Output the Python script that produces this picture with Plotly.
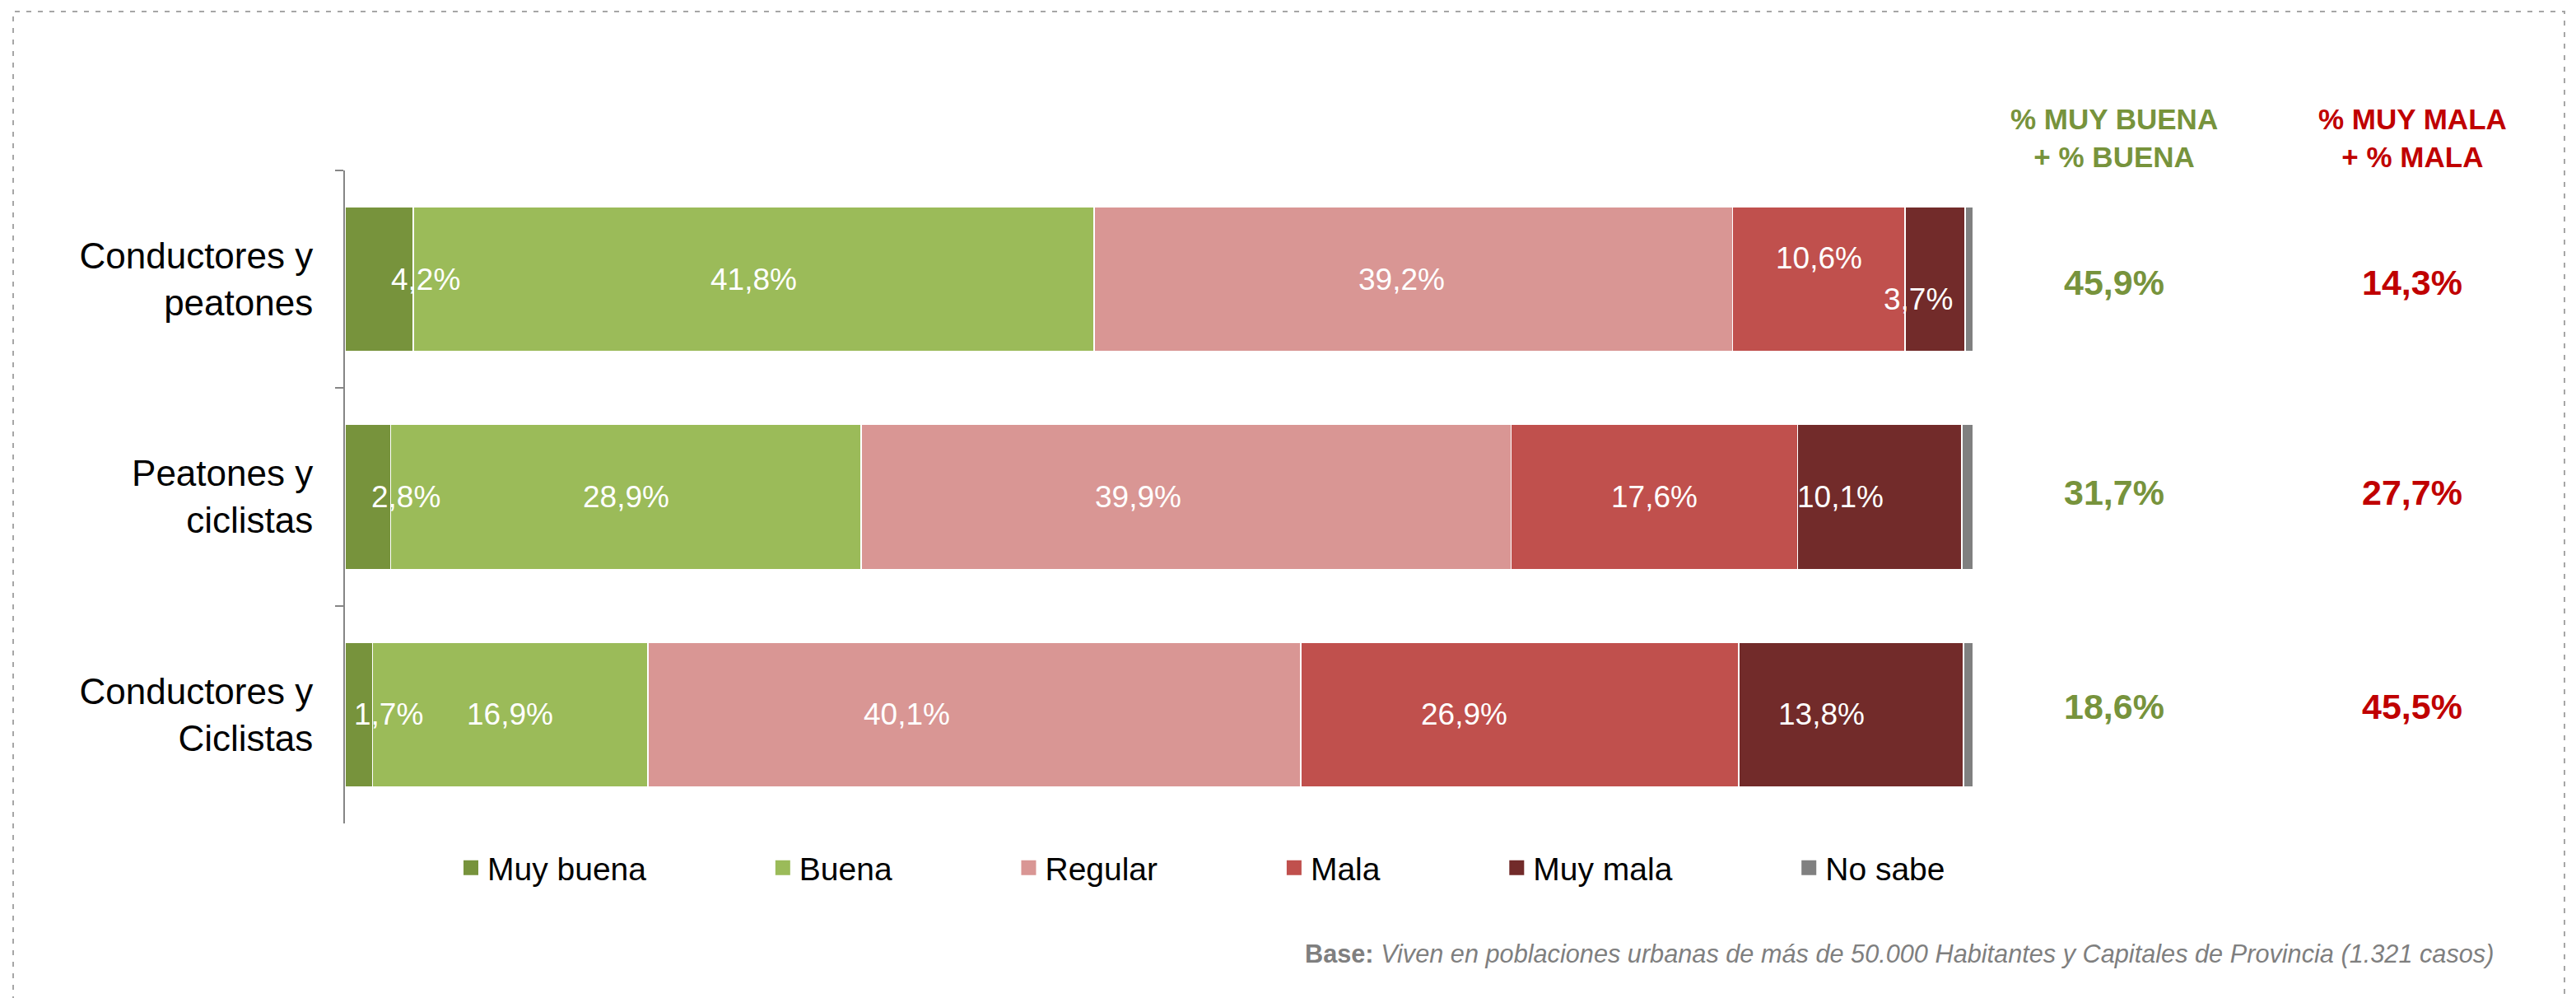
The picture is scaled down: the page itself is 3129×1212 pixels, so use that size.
import plotly.graph_objects as go

# ---------------- data ----------------
CATEGORIES = ["Conductores y<br>peatones", "Peatones y<br>ciclistas", "Conductores y<br>Ciclistas"]
SERIES = ["Muy buena", "Buena", "Regular", "Mala", "Muy mala", "No sabe"]
MUY_BUENA = [4.2, 2.8, 1.7]
BUENA = [41.8, 28.9, 16.9]
REGULAR = [39.2, 39.9, 40.1]
MALA = [10.6, 17.6, 26.9]
MUY_MALA = [3.7, 10.1, 13.8]
NO_SABE = [0.5, 0.7, 0.6]
POS_TOTAL = [45.9, 31.7, 18.6]
NEG_TOTAL = [14.3, 27.7, 45.5]
POS_HEADER = "% MUY BUENA<br>+ % BUENA"
NEG_HEADER = "% MUY MALA<br>+ % MALA"
FOOT_BOLD = "Base:"
FOOT_TEXT = "Viven en poblaciones urbanas de más de 50.000 Habitantes y Capitales de Provincia (1.321 casos)"

VALUES = [MUY_BUENA, BUENA, REGULAR, MALA, MUY_MALA, NO_SABE]
SHOW_LABEL = [True, True, True, True, True, False]

# ---------------- style ----------------
COLORS = ["#77933C", "#9BBB59", "#D99694", "#C0504D", "#722B2A", "#808080"]
GREEN = "#77933C"
RED = "#C00000"
SANS = "Liberation Sans, Arial, sans-serif"
# per-label pixel offsets (series x row) mimicking the original label placement
LABEL_XSHIFT = [[56, 46, 36], [0, 0, 0], [-14, -58, -82], [0, 0, -68], [-21, -48, -36]]
LABEL_YSHIFT = [[0, 0, 0], [0, 0, 0], [0, 0, 0], [26, 0, 0], [-24, 0, 0]]
VAL_YSHIFT = [-4, 6, 10]

W, H = 3129, 1212
L, R, T, B = 419, 3129 - 2397, 207, 212
PW, PH = W - L - R, H - T - B


def px_x(px):
    return (px - L) / PW


def px_y(py):
    return (H - B - py) / PH


def fmt(v):
    return f"{v:.1f}".replace(".", ",") + "%"


fig = go.Figure()

for name, vals, col in zip(SERIES, VALUES, COLORS):
    fig.add_trace(go.Bar(
        y=CATEGORIES, x=vals, orientation="h", name=name,
        marker=dict(color=col, line=dict(color="white", width=1.5)),
        showlegend=False, hoverinfo="skip",
    ))

# legend entries (square symbols); trailing spaces reproduce the wide gaps
PAD = "\u00a0" * 13
for i, (name, col) in enumerate(zip(SERIES, COLORS)):
    fig.add_trace(go.Scatter(
        x=[None], y=[None], mode="markers", name=name + (PAD if i < len(SERIES) - 1 else ""),
        marker=dict(symbol="square", size=16, color=col, line=dict(color=col, width=2)),
        showlegend=True, hoverinfo="skip",
    ))

annotations = []
# segment labels
for s, vals in enumerate(VALUES):
    if not SHOW_LABEL[s]:
        continue
    for r, cat in enumerate(CATEGORIES):
        start = sum(VALUES[k][r] for k in range(s))
        annotations.append(dict(
            x=start + vals[r] / 2, y=cat, xref="x", yref="y",
            xanchor="center", yanchor="middle",
            text=fmt(vals[r]), showarrow=False,
            xshift=LABEL_XSHIFT[s][r], yshift=LABEL_YSHIFT[s][r],
            font=dict(family=SANS, size=37, color="white"),
        ))

# right-side columns
COL_POS_X = px_x(2568)
COL_NEG_X = px_x(2930)
for xx, head, col in [(COL_POS_X, POS_HEADER, GREEN), (COL_NEG_X, NEG_HEADER, RED)]:
    annotations.append(dict(x=xx, y=px_y(168), xref="paper", yref="paper",
                            xanchor="center", yanchor="middle", text=f"<b>{head}</b>",
                            showarrow=False, align="center", font=dict(family=SANS, size=35, color=col)))
for r, cat in enumerate(CATEGORIES):
    annotations.append(dict(x=COL_POS_X, y=cat, xref="paper", yref="y", xanchor="center", yanchor="middle",
                            text=f"<b>{fmt(POS_TOTAL[r])}</b>", showarrow=False, yshift=VAL_YSHIFT[r],
                            font=dict(family=SANS, size=43, color=GREEN)))
    annotations.append(dict(x=COL_NEG_X, y=cat, xref="paper", yref="y", xanchor="center", yanchor="middle",
                            text=f"<b>{fmt(NEG_TOTAL[r])}</b>", showarrow=False, yshift=VAL_YSHIFT[r],
                            font=dict(family=SANS, size=43, color=RED)))

# footnote
annotations.append(dict(x=px_x(3031), y=px_y(1158), xref="paper", yref="paper",
                        xanchor="right", yanchor="middle",
                        text=f"<b>{FOOT_BOLD}</b> <i>{FOOT_TEXT}</i>", showarrow=False,
                        font=dict(family=SANS, size=30.7, color="#7F7F7F")))

fig.update_layout(
    width=W, height=H, autosize=False,
    margin=dict(l=L, r=R, t=T, b=B, pad=0),
    barmode="stack", bargap=0.334,
    plot_bgcolor="white", paper_bgcolor="white",
    annotations=annotations,
    legend=dict(orientation="h", traceorder="normal",
                x=px_x(552), xanchor="left", y=px_y(1054), yanchor="middle",
                font=dict(family=SANS, size=39, color="black"), bgcolor="rgba(0,0,0,0)"),
    shapes=[dict(type="rect", xref="paper", yref="paper",
                 x0=px_x(16), x1=px_x(3115), y0=px_y(1216), y1=px_y(14),
                 line=dict(color="#A6A6A6", width=2, dash="6px,8px"), layer="below")],
    xaxis=dict(range=[0, 100], visible=False, fixedrange=True),
    yaxis=dict(type="category", categoryorder="array", categoryarray=CATEGORIES,
               range=[2.5, -0.5], tickson="boundaries", ticks="outside", ticklen=10, tickwidth=2,
               tickcolor="#868686", showline=True, linecolor="#868686", linewidth=2,
               showgrid=False, zeroline=False, ticklabelstandoff=28,
               tickfont=dict(family=SANS, size=44, color="black")),
)

fig.write_html("out.html", config={"displayModeBar": False},
               post_script="document.body.style.margin='0';document.body.style.padding='0';")
